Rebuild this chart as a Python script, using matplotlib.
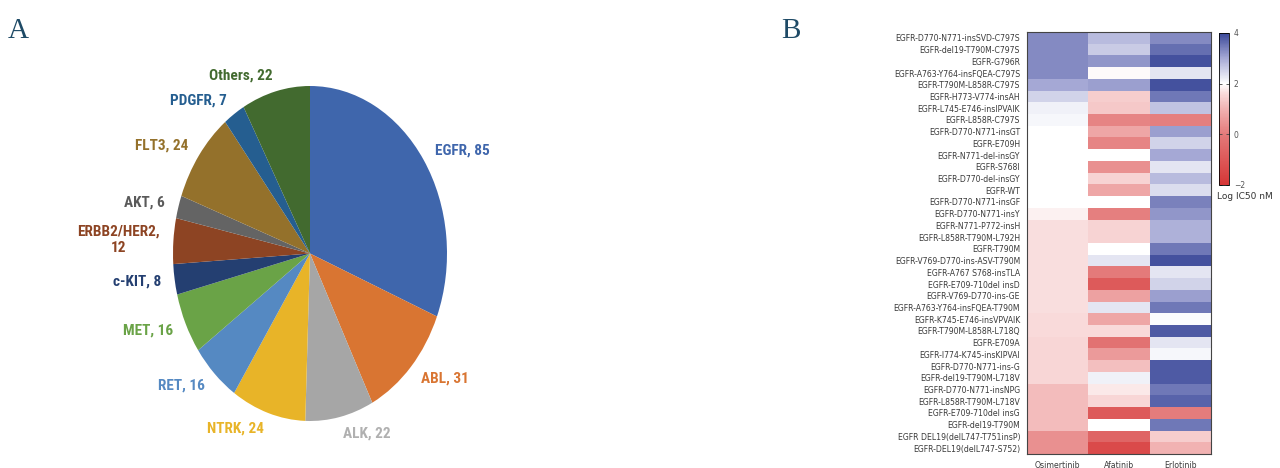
import matplotlib
matplotlib.use("Agg")
import matplotlib.pyplot as plt
import numpy as np
from matplotlib.colors import LinearSegmentedColormap
from matplotlib import font_manager

# ---------------- data ----------------
pie_labels = ["EGFR", "ABL", "ALK", "NTRK", "RET", "MET", "c-KIT",
              "ERBB2/HER2", "AKT", "FLT3", "PDGFR", "Others"]
pie_values = [85, 31, 22, 24, 16, 16, 8, 12, 6, 24, 7, 22]
pie_colors = ["#3f66ac", "#d97532", "#a6a6a6", "#e8b428", "#5589c2", "#6aa347",
              "#243f71", "#8d4423", "#646464", "#94712b", "#255e90", "#426a2f"]
pie_text_colors = ["#3f66ac", "#d97532", "#b0b0b0", "#e8b428", "#5589c2", "#6aa347",
                   "#243f71", "#8d4423", "#5a5a5a", "#94712b", "#255e90", "#426a2f"]

mutations = [
    "EGFR-D770-N771-insSVD-C797S", "EGFR-del19-T790M-C797S", "EGFR-G796R",
    "EGFR-A763-Y764-insFQEA-C797S", "EGFR-T790M-L858R-C797S", "EGFR-H773-V774-insAH",
    "EGFR-L745-E746-insIPVAIK", "EGFR-L858R-C797S", "EGFR-D770-N771-insGT",
    "EGFR-E709H", "EGFR-N771-del-insGY", "EGFR-S768I", "EGFR-D770-del-insGY",
    "EGFR-WT", "EGFR-D770-N771-insGF", "EGFR-D770-N771-insY", "EGFR-N771-P772-insH",
    "EGFR-L858R-T790M-L792H", "EGFR-T790M", "EGFR-V769-D770-ins-ASV-T790M",
    "EGFR-A767 S768-insTLA", "EGFR-E709-710del insD", "EGFR-V769-D770-ins-GE",
    "EGFR-A763-Y764-insFQEA-T790M", "EGFR-K745-E746-insVPVAIK",
    "EGFR-T790M-L858R-L718Q", "EGFR-E709A", "EGFR-I774-K745-insKIPVAI",
    "EGFR-D770-N771-ins-G", "EGFR-del19-T790M-L718V", "EGFR-D770-N771-insNPG",
    "EGFR-L858R-T790M-L718V", "EGFR-E709-710del insG", "EGFR-del19-T790M",
    "EGFR DEL19(delL747-T751insP)", "EGFR-DEL19(delL747-S752)"]
drugs = ["Osimertinib", "Afatinib", "Erlotinib"]

osimertinib = [3.3, 3.3, 3.3, 3.3, 3.0, 2.5, 2.15, 2.1, 2.0, 2.0, 2.0, 2.0,
               2.0, 2.0, 2.0, 1.85, 1.65, 1.65, 1.65, 1.65, 1.65, 1.65, 1.65, 1.65,
               1.6, 1.6, 1.55, 1.55, 1.55, 1.55, 1.15, 1.15, 1.15, 1.15, 0.4, 0.4]
afatinib = [2.8, 2.6, 3.2, 1.95, 3.1, 1.4, 1.35, 0.2, 0.8, 0.2, 2.0, 0.4,
            1.5, 0.8, 2.0, 0.1, 1.5, 1.5, 2.0, 2.3, 0.0, -0.9, 0.7, 2.3,
            0.8, 1.6, -0.2, 0.6, 1.2, 2.15, 1.75, 1.55, -0.9, 2.0, -0.6, -1.4]
erlotinib = [3.3, 3.6, 3.9, 2.3, 3.9, 3.5, 2.7, 0.1, 3.1, 2.5, 3.0, 2.3,
             2.8, 2.4, 3.4, 3.2, 2.9, 2.9, 3.5, 3.9, 2.3, 2.5, 3.1, 3.5,
             2.05, 3.8, 2.3, 2.1, 3.8, 3.8, 3.5, 3.7, 0.05, 3.5, 1.4, 1.0]
cbar_ticks = [4, 2, 0, -2]

# ---------------- fonts ----------------
installed = {f.name for f in font_manager.fontManager.ttflist}
label_family = [f for f in ["Roboto Condensed", "Liberation Sans Narrow", "Roboto"]
                if f in installed] or ["DejaVu Sans"]
narrow = label_family[0] != "Roboto"
pie_fs = 11.0 if narrow else 10.0

# ---------------- figure ----------------
W, H = 1280, 468
fig = plt.figure(figsize=(W / 100, H / 100), dpi=100)
fig.patch.set_facecolor("white")

def px_axes(x0, y0, x1, y1):
    return fig.add_axes([x0 / W, 1 - y1 / H, (x1 - x0) / W, (y1 - y0) / H])

# Panel labels
fig.text(8 / W, 1 - 38 / H, "A", fontsize=21, color="#1e4a66",
         family="Liberation Serif", ha="left", va="baseline")
fig.text(781 / W, 1 - 38 / H, "B", fontsize=21, color="#1e4a66",
         family="Liberation Serif", ha="left", va="baseline")

# ---------------- Pie ----------------
axp = px_axes(173, 86, 447, 421)
texts = [f"{l}, {v}" if l != "ERBB2/HER2" else f"{l},\n{v}"
         for l, v in zip(pie_labels, pie_values)]
wedges, tlist = axp.pie(pie_values, colors=pie_colors, startangle=90,
                        counterclock=False, labels=texts, labeldistance=1.1,
                        wedgeprops=dict(linewidth=0),
                        textprops=dict(fontsize=pie_fs, fontweight="bold",
                                       family=label_family))
for t, c in zip(tlist, pie_text_colors):
    t.set_color(c)
    t.set_multialignment("center")
axp.set_aspect("auto")
axp.set_xlim(-1, 1)
axp.set_ylim(-1, 1)

# ---------------- Heatmap ----------------
vmin, vmax = -2, 4
def pos(v):
    return (v - vmin) / (vmax - vmin)
cmap = LinearSegmentedColormap.from_list(
    "ic50", [(pos(-2), "#d63636"), (pos(0), "#e47a7a"), (pos(1), "#f1b2b2"),
             (pos(1.6), "#f9dada"), (pos(2), "#ffffff"),
             (pos(3), "#a7aad6"), (pos(4), "#3a4899")])
data = np.array([osimertinib, afatinib, erlotinib]).T
axh = px_axes(1027, 32, 1211, 454)
im = axh.imshow(data, cmap=cmap, vmin=vmin, vmax=vmax, aspect="auto",
                interpolation="nearest")
axh.set_yticks(range(len(mutations)))
axh.set_yticklabels(mutations, fontsize=5.6, color="#3a3a3a")
axh.set_xticks(range(len(drugs)))
axh.set_xticklabels(drugs, fontsize=5.6, color="#3a3a3a")
axh.tick_params(length=0, pad=5)
for s in axh.spines.values():
    s.set_linewidth(0.8)
    s.set_color("#444444")

axc = px_axes(1219, 33, 1229, 185)
cb = fig.colorbar(im, cax=axc, ticks=cbar_ticks)
cb.ax.tick_params(labelsize=5.5, labelcolor="#555555", length=2, width=0.6,
                  direction="in", left=True, right=True, color="#444444")
cb.outline.set_linewidth(0.6)
fig.text(1217 / W, 1 - 196 / H, "Log IC50 nM", fontsize=6.5, color="#333333",
         ha="left", va="center")

fig.savefig("out.png", dpi=100, facecolor="white")
